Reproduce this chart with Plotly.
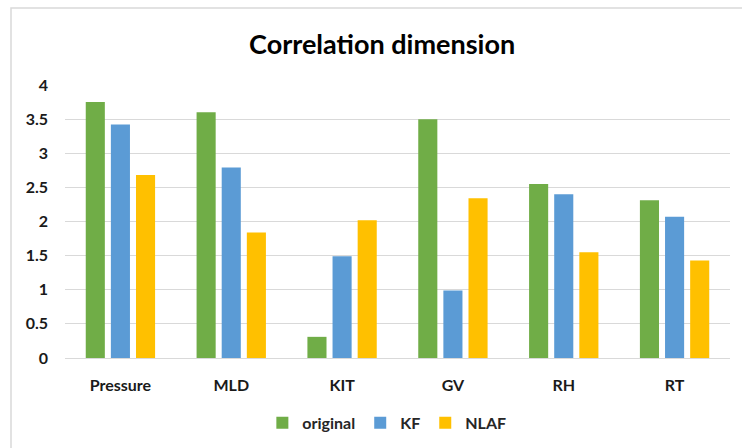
import plotly.graph_objects as go

# Correlation dimension per variable for each signal version
categories = ["Pressure", "MLD", "KIT", "GV", "RH", "RT"]
original = [3.75, 3.60, 0.31, 3.50, 2.55, 2.31]
kf = [3.42, 2.79, 1.49, 0.99, 2.40, 2.07]
nlaf = [2.68, 1.84, 2.02, 2.34, 1.55, 1.43]
y_ticks = [0, 0.5, 1, 1.5, 2, 2.5, 3, 3.5, 4]

series = [
    ("original", original, "#70AD47"),
    ("KF", kf, "#5B9BD5"),
    ("NLAF", nlaf, "#FFC000"),
]

FONT = "Lato"

fig = go.Figure()
for name, vals, color in series:
    fig.add_trace(go.Bar(
        x=categories, y=vals, name=name,
        marker=dict(color=color, line=dict(width=0)),
    ))

fig.update_layout(
    width=742, height=448,
    margin=dict(l=65, r=12, t=85, b=90, autoexpand=False),
    paper_bgcolor="white", plot_bgcolor="white",
    barmode="group", bargap=0.32, bargroupgap=0.24,
    font=dict(family=FONT, color="#262626"),
    title=dict(
        text="<b>Correlation dimension</b>",
        x=0.515, xanchor="center", y=0.9, yanchor="middle",
        font=dict(family=FONT, size=27, color="#000000"),
    ),
    legend=dict(
        orientation="h", x=0.484, xanchor="center",
        yref="container", y=0.056, yanchor="middle",
        font=dict(family=FONT, size=16, color="#262626", weight="bold"),
        itemwidth=30, traceorder="normal",
    ),
    showlegend=True,
)

fig.update_xaxes(
    showgrid=False, showline=True, linecolor="#d9d9d9", linewidth=1,
    ticks="", ticklabelstandoff=13,
    tickfont=dict(family=FONT, size=16, color="#1a1a1a", weight="bold"),
)
fig.update_yaxes(
    range=[0, 4], tickvals=y_ticks, ticktext=[f"{v:g}" for v in y_ticks],
    showgrid=True, gridcolor="#d9d9d9", gridwidth=1,
    zeroline=True, zerolinecolor="#d9d9d9", zerolinewidth=1,
    showline=False, ticks="", ticklabelstandoff=16,
    tickfont=dict(family=FONT, size=16, color="#1a1a1a", weight="bold"),
)

# Light frame around the chart area
fig.add_shape(
    type="rect", xref="paper", yref="paper",
    x0=-0.0812, x1=1.05, y0=-0.35, y1=1.282,
    line=dict(color="#d9d9d9", width=1.5), fillcolor="rgba(0,0,0,0)", layer="below",
)

fig.write_html("out.html")
